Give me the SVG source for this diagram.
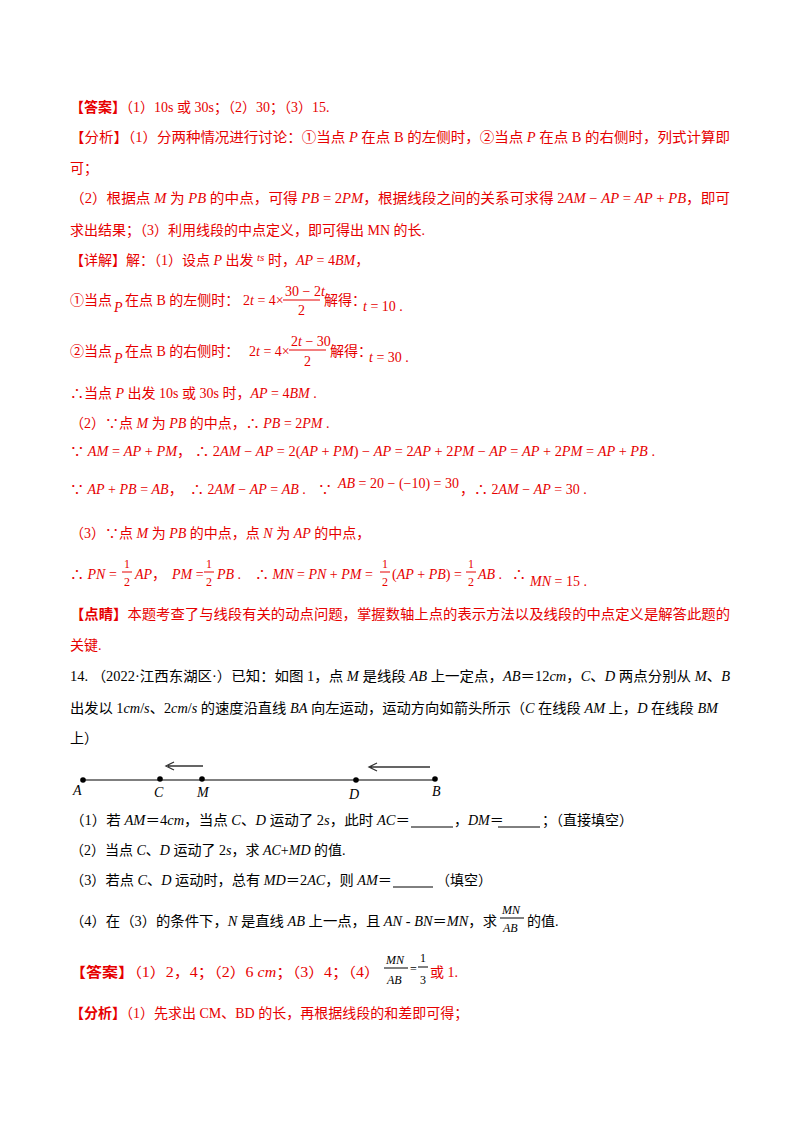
<svg xmlns="http://www.w3.org/2000/svg" width="800" height="1132" viewBox="0 0 800 1132">
<style>
text{font-family:"Liberation Serif","Noto Sans CJK SC",serif;font-size:14px}
.r{fill:#e60000}
.k{fill:#000}
.b{font-weight:bold}
.i{font-style:italic}
.f{font-size:12px}
</style>
<rect width="800" height="1132" fill="#fff"/>
<g class="r">
<text x="70" y="112"><tspan class="b">【答案】</tspan>（1）10s 或 30s；（2）30；（3）15.</text>
<text x="70" y="142" textLength="660" lengthAdjust="spacingAndGlyphs">【分析】（1）分两种情况进行讨论：①当点 <tspan class="i">P</tspan> 在点 B 的左侧时，②当点 <tspan class="i">P</tspan> 在点 B 的右侧时，列式计算即</text>
<text x="70" y="173">可；</text>
<text x="70" y="203" textLength="660" lengthAdjust="spacingAndGlyphs">（2）根据点 <tspan class="i">M</tspan> 为 <tspan class="i">PB</tspan> 的中点，可得 <tspan class="i">PB</tspan> = 2<tspan class="i">PM</tspan>，根据线段之间的关系可求得 2<tspan class="i">AM</tspan> − <tspan class="i">AP</tspan> = <tspan class="i">AP</tspan> + <tspan class="i">PB</tspan>，即可</text>
<text x="70" y="235">求出结果；（3）利用线段的中点定义，即可得出 MN 的长.</text>
<text x="70" y="265">【详解】解：（1）设点 <tspan class="i">P</tspan> 出发 <tspan class="i" font-size="11" dy="-4">ts</tspan><tspan dy="4"> 时，</tspan><tspan class="i">AP</tspan> = 4<tspan class="i">BM</tspan>，</text>
<text x="70" y="305">①当点</text><text x="114" y="312" class="i">P</text><text x="125" y="305">在点 B 的左侧时：</text>
<text x="243" y="305">2<tspan class="i">t</tspan> = 4×</text>
<text x="285" y="296">30 − 2<tspan class="i">t</tspan></text><line x1="283" y1="300" x2="320" y2="300" stroke="#e60000"/><text x="298" y="315">2</text>
<text x="324" y="305">解得：</text>
<text x="363" y="311"><tspan class="i">t</tspan> = 10 .</text>
<text x="70" y="356">②当点</text><text x="114" y="363" class="i">P</text><text x="125" y="356">在点 B 的右侧时：</text>
<text x="249" y="356">2<tspan class="i">t</tspan> = 4×</text>
<text x="291" y="346">2<tspan class="i">t</tspan> − 30</text><line x1="289" y1="350" x2="326" y2="350" stroke="#e60000"/><text x="304" y="366">2</text>
<text x="330" y="356">解得：</text>
<text x="369" y="362"><tspan class="i">t</tspan> = 30 .</text>
<text x="70" y="398">∴当点 <tspan class="i">P</tspan> 出发 10s 或 30s 时，<tspan class="i">AP</tspan> = 4<tspan class="i">BM</tspan> .</text>
<text x="70" y="428">（2）∵点 <tspan class="i">M</tspan> 为 <tspan class="i">PB</tspan> 的中点，∴ <tspan class="i">PB</tspan> = 2<tspan class="i">PM</tspan> .</text>
<text x="70" y="456" textLength="585" lengthAdjust="spacingAndGlyphs">∵ <tspan class="i">AM</tspan> = <tspan class="i">AP</tspan> + <tspan class="i">PM</tspan>， ∴ 2<tspan class="i">AM</tspan> − <tspan class="i">AP</tspan> = 2(<tspan class="i">AP</tspan> + <tspan class="i">PM</tspan>) − <tspan class="i">AP</tspan> = 2<tspan class="i">AP</tspan> + 2<tspan class="i">PM</tspan> − <tspan class="i">AP</tspan> = <tspan class="i">AP</tspan> + 2<tspan class="i">PM</tspan> = <tspan class="i">AP</tspan> + <tspan class="i">PB</tspan> .</text>
<text x="70" y="494">∵ <tspan class="i">AP</tspan> + <tspan class="i">PB</tspan> = <tspan class="i">AB</tspan>，</text>
<text x="190" y="494">∴ 2<tspan class="i">AM</tspan> − <tspan class="i">AP</tspan> = <tspan class="i">AB</tspan> .</text>
<text x="318" y="494">∵</text>
<text x="338" y="488"><tspan class="i">AB</tspan> = 20 − (−10) = 30</text>
<text x="460" y="494">，∴ 2<tspan class="i">AM</tspan> − <tspan class="i">AP</tspan> = 30 .</text>
<text x="70" y="538">（3）∵点 <tspan class="i">M</tspan> 为 <tspan class="i">PB</tspan> 的中点，点 <tspan class="i">N</tspan> 为 <tspan class="i">AP</tspan> 的中点，</text>
<text x="70" y="579">∴ <tspan class="i">PN</tspan> =</text><text x="124" y="568" class="f">1</text><line x1="122" y1="572" x2="132" y2="572" stroke="#e60000"/><text x="124" y="586" class="f">2</text><text x="135" y="579"><tspan class="i">AP</tspan>，</text>
<text x="172" y="579"><tspan class="i">PM</tspan> =</text><text x="206" y="568" class="f">1</text><line x1="204" y1="572" x2="214" y2="572" stroke="#e60000"/><text x="206" y="586" class="f">2</text><text x="217" y="579"><tspan class="i">PB</tspan> .</text>
<text x="255" y="579">∴ <tspan class="i">MN</tspan> = <tspan class="i">PN</tspan> + <tspan class="i">PM</tspan> =</text><text x="382" y="568" class="f">1</text><line x1="380" y1="572" x2="390" y2="572" stroke="#e60000"/><text x="382" y="586" class="f">2</text><text x="392" y="579">(<tspan class="i">AP</tspan> + <tspan class="i">PB</tspan>) =</text>
<text x="468" y="568" class="f">1</text><line x1="466" y1="572" x2="476" y2="572" stroke="#e60000"/><text x="468" y="586" class="f">2</text><text x="478" y="579"><tspan class="i">AB</tspan> .</text>
<text x="512" y="579">∴</text>
<text x="530" y="586"><tspan class="i">MN</tspan> = 15 .</text>
<text x="70" y="619" textLength="660" lengthAdjust="spacingAndGlyphs"><tspan class="b">【点睛】</tspan>本题考查了与线段有关的动点问题，掌握数轴上点的表示方法以及线段的中点定义是解答此题的</text>
<text x="70" y="650">关键.</text>
</g>
<g class="k">
<text x="70" y="681" textLength="660" lengthAdjust="spacingAndGlyphs">14. （2022·江西东湖区·）已知：如图 1，点 <tspan class="i">M</tspan> 是线段 <tspan class="i">AB</tspan> 上一定点，<tspan class="i">AB</tspan>＝12<tspan class="i">cm</tspan>，<tspan class="i">C</tspan>、<tspan class="i">D</tspan> 两点分别从 <tspan class="i">M</tspan>、<tspan class="i">B</tspan></text>
<text x="70" y="713" textLength="648" lengthAdjust="spacingAndGlyphs">出发以 1<tspan class="i">cm</tspan>/<tspan class="i">s</tspan>、2<tspan class="i">cm</tspan>/<tspan class="i">s</tspan> 的速度沿直线 <tspan class="i">BA</tspan> 向左运动，运动方向如箭头所示（<tspan class="i">C</tspan> 在线段 <tspan class="i">AM</tspan> 上，<tspan class="i">D</tspan> 在线段 <tspan class="i">BM</tspan></text>
<text x="70" y="743">上）</text>
</g>
<g id="figure">
<line x1="82" y1="780" x2="437" y2="780" stroke="#555" stroke-width="1.5"/>
<path d="M203 766H168M174 762L166 766L174 770" fill="none" stroke="#333" stroke-width="1.3"/>
<path d="M430 767H370M377 763L369 767L377 771" fill="none" stroke="#333" stroke-width="1.3"/>
<g fill="#000"><circle cx="83" cy="780" r="2.8"/><circle cx="160" cy="779" r="2.8"/><circle cx="202" cy="779" r="2.8"/><circle cx="356" cy="780" r="2.8"/><circle cx="435" cy="779" r="2.8"/></g>
<g class="k i" font-size="13">
<text x="73" y="795" font-size="13">A</text>
<text x="154" y="797" font-size="13">C</text>
<text x="197" y="797" font-size="13">M</text>
<text x="349" y="799" font-size="13">D</text>
<text x="432" y="796" font-size="13">B</text>
</g>
</g>
<g class="k">
<text x="70" y="825" textLength="340" lengthAdjust="spacingAndGlyphs">（1）若 <tspan class="i">AM</tspan>＝4<tspan class="i">cm</tspan>，当点 <tspan class="i">C</tspan>、<tspan class="i">D</tspan> 运动了 2<tspan class="i">s</tspan>，此时 <tspan class="i">AC</tspan>＝</text>
<line x1="411" y1="827" x2="453" y2="827" stroke="#000"/>
<text x="454" y="825">，<tspan class="i">DM</tspan>＝</text>
<line x1="498" y1="827" x2="540" y2="827" stroke="#000"/>
<text x="542" y="825">；（直接填空）</text>
<text x="70" y="855">（2）当点 <tspan class="i">C</tspan>、<tspan class="i">D</tspan> 运动了 2<tspan class="i">s</tspan>，求 <tspan class="i">AC</tspan>+<tspan class="i">MD</tspan> 的值.</text>
<text x="70" y="885" textLength="322" lengthAdjust="spacingAndGlyphs">（3）若点 <tspan class="i">C</tspan>、<tspan class="i">D</tspan> 运动时，总有 <tspan class="i">MD</tspan>＝2<tspan class="i">AC</tspan>，则 <tspan class="i">AM</tspan>＝</text>
<line x1="393" y1="887" x2="433" y2="887" stroke="#000"/>
<text x="436" y="885">（填空）</text>
<text x="70" y="926" textLength="427" lengthAdjust="spacingAndGlyphs">（4）在（3）的条件下，<tspan class="i">N</tspan> 是直线 <tspan class="i">AB</tspan> 上一点，且 <tspan class="i">AN</tspan> - <tspan class="i">BN</tspan>＝<tspan class="i">MN</tspan>，求</text>
<text x="502" y="914" class="i f">MN</text><line x1="500" y1="918" x2="524" y2="918" stroke="#000"/><text x="503" y="932" class="i f">AB</text>
<text x="527" y="926">的值.</text>
</g>
<g class="r">
<text x="70" y="977" textLength="310" lengthAdjust="spacingAndGlyphs"><tspan class="b">【答案】</tspan>（1）2，4；（2）6 <tspan class="i">cm</tspan>；（3）4；（4）</text>
<text x="386" y="964" class="i k f">MN</text><line x1="384" y1="968" x2="408" y2="968" stroke="#000"/><text x="387" y="984" class="i k f">AB</text>
<text x="410" y="973" class="k f">=</text>
<text x="420" y="962" class="k f">1</text><line x1="418" y1="967" x2="428" y2="967" stroke="#000"/><text x="420" y="984" class="k f">3</text>
<text x="430" y="977">或 1.</text>
<text x="70" y="1018"><tspan class="b">【分析】</tspan>（1）先求出 CM、BD 的长，再根据线段的和差即可得；</text>
</g>
</svg>
